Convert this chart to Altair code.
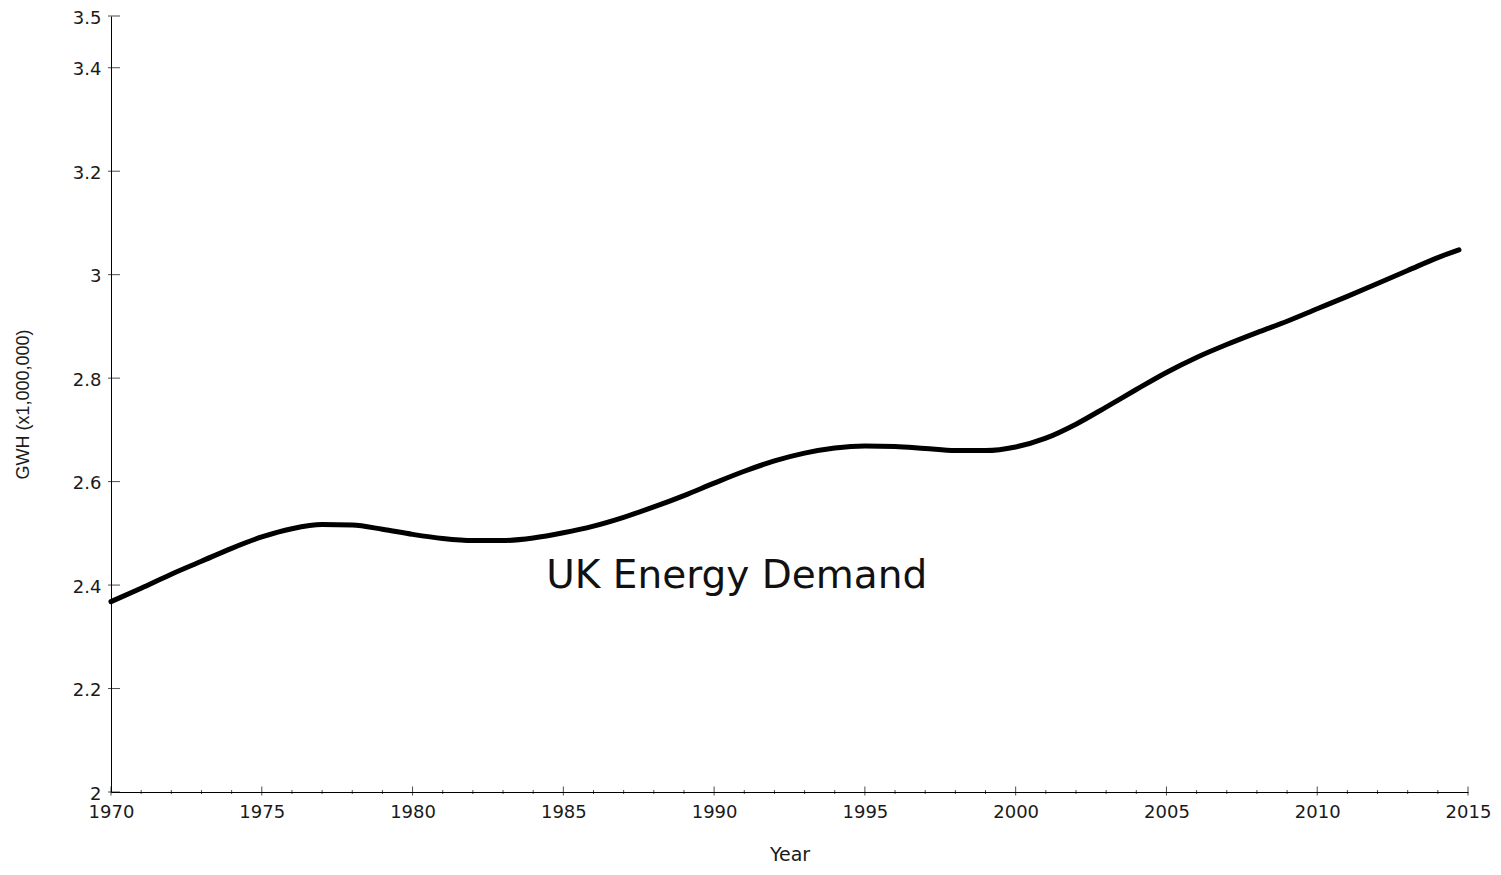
import altair as alt
import pandas as pd

years = [1970, 1971, 1972, 1973, 1974, 1975, 1976, 1977, 1978, 1979,
         1980, 1981, 1982, 1983, 1984, 1985, 1986, 1987, 1988, 1989,
         1990, 1991, 1992, 1993, 1994, 1995, 1996, 1997, 1998, 1999,
         2000, 2001, 2002, 2003, 2004, 2005, 2006, 2007, 2008, 2009,
         2010, 2011, 2012, 2013, 2014, 2014.7]
demand = [2.368, 2.394, 2.421, 2.446, 2.471, 2.493, 2.509, 2.517, 2.516, 2.508,
          2.498, 2.490, 2.486, 2.486, 2.491, 2.501, 2.514, 2.531, 2.551, 2.573,
          2.597, 2.620, 2.640, 2.655, 2.665, 2.669, 2.668, 2.664, 2.660, 2.660,
          2.667, 2.684, 2.711, 2.744, 2.778, 2.811, 2.840, 2.865, 2.888, 2.910,
          2.934, 2.958, 2.983, 3.008, 3.033, 3.048]

x_major = [1970, 1975, 1980, 1985, 1990, 1995, 2000, 2005, 2010, 2015]
x_minor = [y for y in range(1970, 2016) if y % 5 != 0]
y_ticks = [2, 2.2, 2.4, 2.6, 2.8, 3, 3.2, 3.4, 3.5]

label_text = "UK Energy Demand"
label_year = 1990.75
label_value = 2.395

x_domain = [1970, 2015]
y_domain = [2, 3.5]

FONT = "DejaVu Sans"

df = pd.DataFrame({"Year": years, "GWH": demand})
xs = alt.Scale(domain=x_domain, nice=False, zero=False)
ys = alt.Scale(domain=y_domain, nice=False, zero=False)

base_x = alt.X("Year:Q", scale=xs, title="Year",
               axis=alt.Axis(values=x_major, format="d", ticks=False, tickSize=0,
                             grid=False, labelPadding=11, labelFontSize=18,
                             labelFont=FONT, labelColor="#1a1a1a",
                             titleFont=FONT, titleFontSize=19, titleFontWeight="normal",
                             titleColor="#1a1a1a", titlePadding=24,
                             domainColor="#000000", domainWidth=1,
                             labelFlush=False))
base_y = alt.Y("GWH:Q", scale=ys, title="GWH (x1,000,000)",
               axis=alt.Axis(values=y_ticks, format="~g", ticks=False, tickSize=0,
                             grid=False, labelPadding=10, labelFontSize=18,
                             labelOffset=2,
                             labelFont=FONT, labelColor="#1a1a1a",
                             titleFont="Liberation Sans", titleFontSize=18,
                             titleFontWeight="normal", titleColor="#1a1a1a",
                             titlePadding=40,
                             domainColor="#000000", domainWidth=1))

line = alt.Chart(df).mark_line(color="#000000", strokeWidth=5, strokeCap="round",
                               interpolate="monotone").encode(x=base_x, y=base_y)

maj = alt.Chart(pd.DataFrame({"Year": x_major})).mark_tick(
    orient="vertical", size=9, thickness=1, color="#000000", yOffset=-1
).encode(x=alt.X("Year:Q", scale=xs), y=alt.datum(y_domain[0], scale=ys))

mnr = alt.Chart(pd.DataFrame({"Year": x_minor})).mark_tick(
    orient="vertical", size=4, thickness=1, color="#000000"
).encode(x=alt.X("Year:Q", scale=xs), y=alt.datum(y_domain[0], scale=ys))

yt = alt.Chart(pd.DataFrame({"GWH": y_ticks})).mark_tick(
    orient="horizontal", size=12, thickness=1, color="#000000", xOffset=3
).encode(y=alt.Y("GWH:Q", scale=ys), x=alt.datum(x_domain[0], scale=xs))

txt = alt.Chart(pd.DataFrame({"Year": [label_year], "GWH": [label_value], "t": [label_text]})).mark_text(
    font=FONT, fontSize=39, color="#111111", align="center", baseline="alphabetic"
).encode(x=alt.X("Year:Q", scale=xs), y=alt.Y("GWH:Q", scale=ys), text="t:N")

chart = alt.layer(line, maj, mnr, yt, txt).properties(
    width=1357, height=776,
    autosize=alt.AutoSizeParams(type="none"),
    padding={"left": 103, "top": 8, "right": 25, "bottom": 74},
).configure(background="#ffffff").configure_view(stroke=None)

chart.save("out.html", embed_options={"renderer": "svg", "actions": False})
